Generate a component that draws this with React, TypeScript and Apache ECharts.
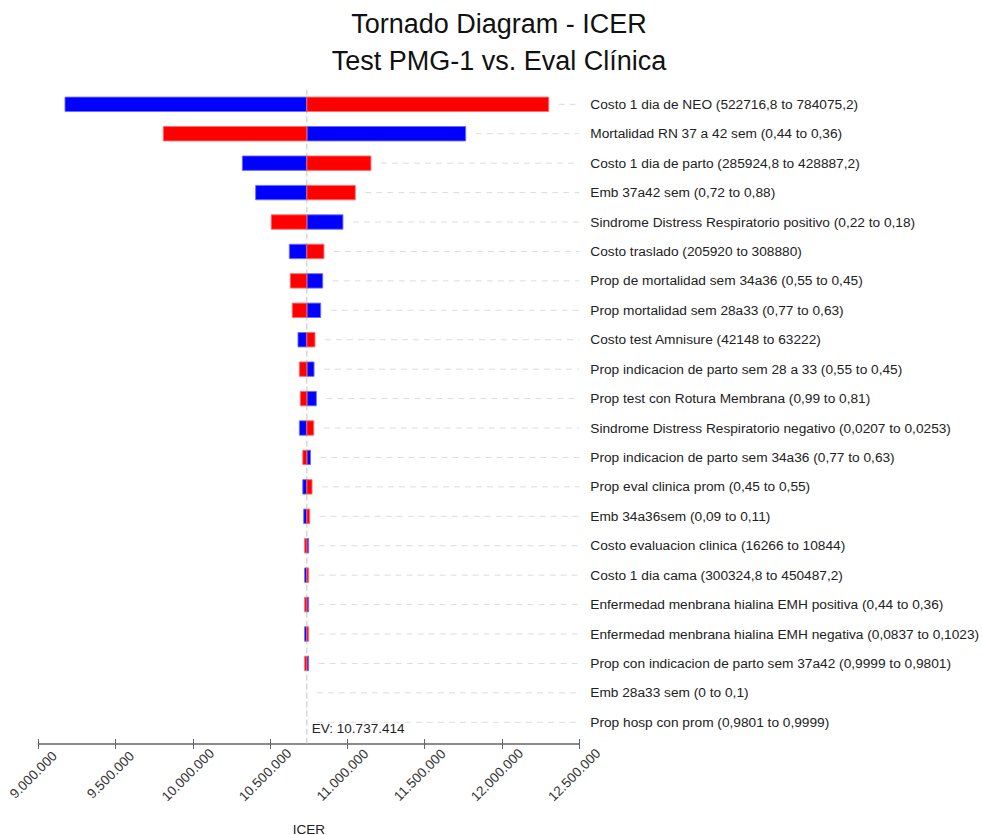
import React, { useEffect, useRef } from "react";
import * as echarts from "echarts";

const categories = [
  "Costo 1 dia de NEO (522716,8 to 784075,2)",
  "Mortalidad RN 37 a 42 sem (0,44 to 0,36)",
  "Costo 1 dia de parto (285924,8 to 428887,2)",
  "Emb 37a42 sem (0,72 to 0,88)",
  "Sindrome Distress Respiratorio positivo (0,22 to 0,18)",
  "Costo traslado (205920 to 308880)",
  "Prop de mortalidad sem 34a36 (0,55 to 0,45)",
  "Prop mortalidad sem 28a33 (0,77 to 0,63)",
  "Costo test Amnisure (42148 to 63222)",
  "Prop indicacion de parto sem 28 a 33 (0,55 to 0,45)",
  "Prop test con Rotura Membrana (0,99 to 0,81)",
  "Sindrome Distress Respiratorio negativo (0,0207 to 0,0253)",
  "Prop indicacion de parto sem 34a36 (0,77 to 0,63)",
  "Prop eval clinica prom (0,45 to 0,55)",
  "Emb 34a36sem (0,09 to 0,11)",
  "Costo evaluacion clinica (16266 to 10844)",
  "Costo 1 dia cama (300324,8 to 450487,2)",
  "Enfermedad menbrana hialina EMH positiva (0,44 to 0,36)",
  "Enfermedad menbrana hialina EMH negativa (0,0837 to 0,1023)",
  "Prop con indicacion de parto sem 37a42 (0,9999 to 0,9801)",
  "Emb 28a33 sem (0 to 0,1)",
  "Prop hosp con prom (0,9801 to 0,9999)",
];

// ICER at the parameter's first value (blue bars)
const blueICER = [
  9172700, 11765000, 10320000, 10406000, 10971000, 10624000, 10840000,
  10827000, 10680000, 10784000, 10799000, 10689000, 10761000, 10711000,
  10717000, 10749000, 10723000, 10749000, 10723000, 10749000, 10737414,
  10737414,
];

// ICER at the parameter's second value (red bars)
const redICER = [
  12302000, 9808700, 11152000, 11051000, 10507000, 10848000, 10630000,
  10643000, 10790000, 10689000, 10695000, 10782000, 10711000, 10771000,
  10756000, 10723000, 10749000, 10723000, 10749000, 10723000, 10737414,
  10737414,
];

const EV = 10737414;
const xMin = 9000000;
const xMax = 12500000;
const xInterval = 500000;

const FONT = "'Liberation Sans', Arial, sans-serif";

const fmt = (v: number) =>
  Math.round(v)
    .toString()
    .replace(/\B(?=(\d{3})+(?!\d))/g, ".");

export default function App() {
  const ref = useRef<HTMLDivElement>(null);

  useEffect(() => {
    if (!ref.current) return;
    const chart = echarts.init(ref.current, undefined, { renderer: "svg" });

    const barData = categories.map((_, i) => [blueICER[i], redICER[i], i]);

    const option: any = {
      animation: false,
      backgroundColor: "#ffffff",
      textStyle: { fontFamily: FONT },
      title: {
        text: "Tornado Diagram - ICER\nTest PMG-1 vs. Eval Clínica",
        left: 494,
        textAlign: "center",
        top: 0,
        textStyle: {
          fontFamily: FONT,
          fontSize: 27,
          fontWeight: "normal",
          color: "#111",
          lineHeight: 37,
        },
      },
      grid: {
        left: 38.3,
        width: 541,
        top: 89.6,
        height: 647.4,
        containLabel: false,
        outerBoundsMode: "none",
      },
      xAxis: [
        {
          type: "value",
          min: xMin,
          max: xMax,
          interval: xInterval,
          position: "bottom",
          offset: 7,
          axisLine: { show: true, lineStyle: { color: "#666", width: 1.5 } },
          axisTick: { show: true, length: 5, lineStyle: { color: "#666" } },
          splitLine: { show: false },
          axisLabel: {
            rotate: 45,
            align: "center",
            verticalAlign: "middle",
            margin: 26,
            padding: [0, 14, 0, 0],
            fontSize: 13.5,
            color: "#333",
            fontFamily: FONT,
            formatter: (v: number) => fmt(v),
          },
          name: "ICER",
          nameLocation: "middle",
          nameGap: 78,
          nameTextStyle: { fontSize: 13.5, color: "#222", fontFamily: FONT },
        },
        {
          type: "value",
          min: xMin,
          max: xMax,
          interval: xInterval,
          position: "bottom",
          offset: 7,
          axisLine: { show: false },
          axisTick: {
            show: true,
            inside: true,
            length: 5,
            lineStyle: { color: "#666" },
          },
          axisLabel: { show: false },
          splitLine: { show: false },
        },
      ],
      yAxis: {
        type: "category",
        data: categories,
        inverse: true,
        position: "right",
        axisLine: { show: false },
        axisTick: { show: false },
        splitLine: { show: false },
        axisLabel: {
          margin: 11,
          fontSize: 13.7,
          color: "#222",
          fontFamily: FONT,
        },
      },
      series: [
        {
          type: "custom",
          name: "ev",
          xAxisIndex: 0,
          yAxisIndex: 0,
          data: [[EV, 0]],
          encode: { x: 0, y: 1 },
          z: 1,
          silent: true,
          renderItem: (params: any, api: any) => {
            const cs = params.coordSys;
            const x = api.coord([api.value(0), 0])[0];
            const bottom = cs.y + cs.height;
            return {
              type: "group",
              children: [
                {
                  type: "line",
                  shape: { x1: x, y1: cs.y, x2: x, y2: bottom + 7 },
                  style: { stroke: "#c4c4c4", lineWidth: 1, lineDash: [6, 3] },
                },
                {
                  type: "text",
                  style: {
                    x: x + 5,
                    y: bottom - 9,
                    text: "EV: " + fmt(api.value(0)),
                    fontSize: 13.5,
                    fontFamily: FONT,
                    fill: "#222",
                    verticalAlign: "middle",
                    align: "left",
                  },
                },
              ],
            };
          },
        },
        {
          type: "custom",
          name: "tornado",
          xAxisIndex: 0,
          yAxisIndex: 0,
          data: barData,
          encode: { x: [0, 1], y: 2 },
          z: 2,
          renderItem: (params: any, api: any) => {
            const cs = params.coordSys;
            const yi = api.value(2);
            const cEV = api.coord([EV, yi]);
            const cB = api.coord([api.value(0), yi]);
            const cR = api.coord([api.value(1), yi]);
            const h = api.size([0, 1])[1] * 0.49;
            const children: any[] = [];
            const mk = (c: number[], fill: string, stroke: string) => {
              const w = Math.abs(c[0] - cEV[0]);
              if (w < 0.3) return;
              children.push({
                type: "rect",
                shape: {
                  x: Math.min(c[0], cEV[0]),
                  y: cEV[1] - h / 2,
                  width: w,
                  height: h,
                },
                style: { fill, stroke, lineWidth: 1 },
              });
            };
            mk(cB, "#0000ff", "rgba(110,110,255,0.9)");
            mk(cR, "#ff0000", "rgba(255,110,110,0.9)");
            const right = Math.max(cB[0], cR[0], cEV[0]) + 10;
            const end = cs.x + cs.width;
            if (end > right) {
              children.push({
                type: "line",
                shape: { x1: right, y1: cEV[1], x2: end, y2: cEV[1] },
                style: { stroke: "#dcdcdc", lineWidth: 1, lineDash: [6, 5] },
              });
            }
            return { type: "group", children };
          },
        },
      ],
    };

    chart.setOption(option);
    return () => chart.dispose();
  }, []);

  return (
    <div
      ref={ref}
      style={{ position: "absolute", left: 0, top: 0, width: 982, height: 835 }}
    />
  );
}
